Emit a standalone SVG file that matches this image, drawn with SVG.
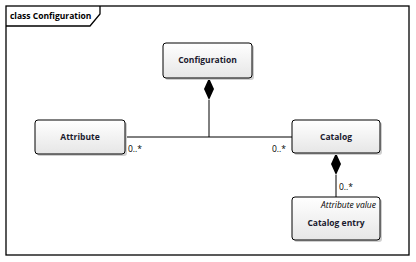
<svg xmlns="http://www.w3.org/2000/svg" width="416" height="262" viewBox="0 0 416 262">
  <defs>
    <linearGradient id="boxFill" x1="0" y1="0" x2="0" y2="1">
      <stop offset="0" stop-color="#ffffff"/>
      <stop offset="1" stop-color="#e6e6e6"/>
    </linearGradient>
  </defs>
  <style>
    .frame { fill: none; stroke: #000; stroke-width: 1.3; }
    .shadow { fill: #cfcfcf; }
    .box { fill: url(#boxFill); stroke: #000; stroke-width: 1; }
    .name { font-family: "Open Sans", "Liberation Sans", sans-serif; font-size: 8.5px; font-weight: bold; fill: #1a1a2e; text-anchor: middle; }
    .stereo { font-family: "Open Sans", "Liberation Sans", sans-serif; font-size: 8.5px; font-style: italic; fill: #000; text-anchor: end; }
    .mult { font-family: "Open Sans", "Liberation Sans", sans-serif; font-size: 8.5px; fill: #000; }
    .edge { fill: none; stroke: #000; stroke-width: 1; }
    .diamond { fill: #000; }
    .title { font-family: "Open Sans", "Liberation Sans", sans-serif; font-size: 8.5px; font-weight: bold; fill: #000; }
  </style>

  <rect x="0" y="0" width="416" height="262" fill="#ffffff"/>

  <!-- diagram frame with name tab -->
  <g id="frame">
    <rect class="frame" x="6" y="6" width="403" height="249"/>
    <path class="frame" d="M6,26 L90,26 L100,14 L100,6"/>
    <text class="title" x="10" y="19">class Configuration</text>
  </g>

  <!-- connectors: compositions with multiplicities -->
  <g id="connectors">
    <path class="edge" d="M209,100 L209,137 M125,137 L292,137"/>
    <path class="edge" d="M336,175 L336,197"/>
    <path class="diamond" d="M209,78 L214,89 L209,100 L204,89 Z"/>
    <path class="diamond" d="M336,153 L341,164 L336,175 L331,164 Z"/>
    <text class="mult" x="128" y="152">0..*</text>
    <text class="mult" x="272" y="152">0..*</text>
    <text class="mult" x="339" y="190">0..*</text>
  </g>

  <g id="configuration">
    <rect class="shadow" x="165" y="45" width="89" height="35" rx="3"/>
    <rect class="box" x="163" y="43" width="89" height="35" rx="3"/>
    <text class="name" x="207.5" y="63">Configuration</text>
  </g>

  <g id="attribute">
    <rect class="shadow" x="37" y="122" width="90" height="34" rx="3"/>
    <rect class="box" x="35" y="120" width="90" height="34" rx="3"/>
    <text class="name" x="80" y="140">Attribute</text>
  </g>

  <g id="catalog">
    <rect class="shadow" x="294" y="122" width="88" height="33" rx="3"/>
    <rect class="box" x="292" y="120" width="88" height="33" rx="3"/>
    <text class="name" x="336" y="140">Catalog</text>
  </g>

  <g id="catalog-entry">
    <rect class="shadow" x="294" y="199" width="88" height="43" rx="3"/>
    <rect class="box" x="292" y="197" width="88" height="43" rx="3"/>
    <text class="stereo" x="376" y="208">Attribute value</text>
    <text class="name" x="336" y="226">Catalog entry</text>
  </g>
</svg>
